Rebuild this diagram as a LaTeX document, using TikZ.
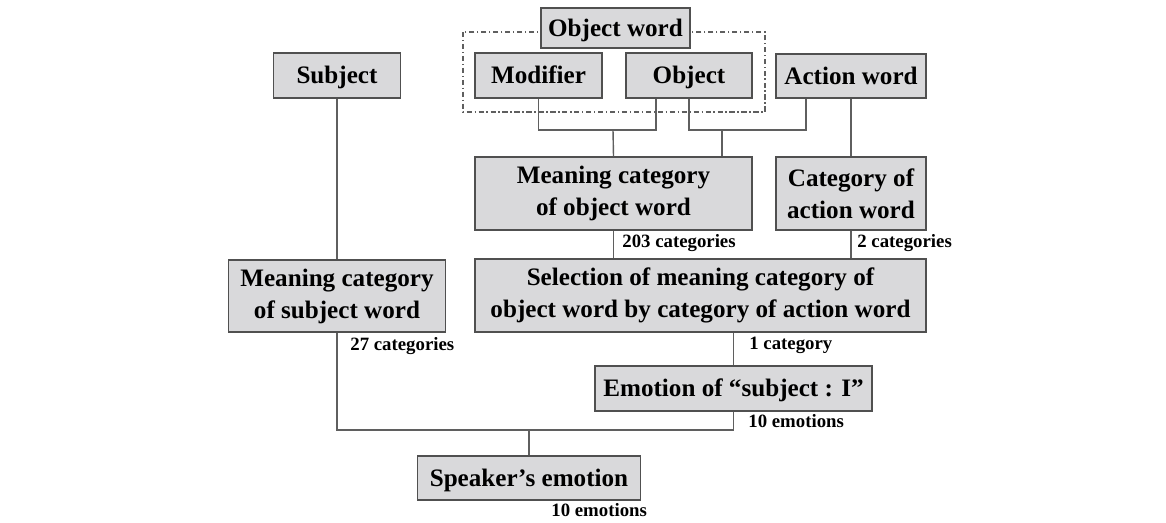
\documentclass[tikz,border=0pt]{standalone}
\usepackage{fontspec}
\setmainfont{Liberation Serif}
\definecolor{boxfill}{RGB}{217,217,219}
\definecolor{boxline}{RGB}{80,80,80}
\definecolor{wirecol}{RGB}{95,95,95}

\begin{document}
\begin{tikzpicture}[x=0.02cm, y=-0.02cm,
        wbox/.style={draw=boxline, fill=boxfill, line width=0.8pt, inner sep=0pt, align=center,
            font=\bfseries\fontsize{14.3}{18.2}\selectfont},
        oneline/.style={text height=9.6pt, text depth=0pt},
        cnt/.style={anchor=base west, inner sep=0pt, font=\bfseries\fontsize{10.7}{12}\selectfont},
        wire/.style={draw=wirecol, line width=0.8pt}]
        \useasboundingbox (0,0) rectangle (1166,522);
        % Group frame for the object word:
        \draw[wirecol, line width=0.7pt, dash pattern=on 3pt off 1.5pt on 0.8pt off 1.5pt] (463,32) rectangle (765,112);
        % Boxes:
        \node[wbox, oneline, minimum width=2.54cm, minimum height=0.9cm](subj) at (337, 75.5){Subject};
        \node[wbox, oneline, minimum width=2.98cm, minimum height=0.8cm](objw) at (615.5, 28){Object word};
        \node[wbox, oneline, minimum width=2.54cm, minimum height=0.9cm](modif) at (538.5, 75.5){Modifier};
        \node[wbox, oneline, minimum width=2.52cm, minimum height=0.9cm](obj) at (689, 75.5){Object};
        \node[wbox, oneline, minimum width=3.0cm, minimum height=0.88cm](action) at (851, 76){Action word};
        \node[wbox, minimum width=5.54cm, minimum height=1.46cm](mcobj) at (613.5, 193.5){Meaning category\\of object word};
        \node[wbox, minimum width=3.0cm, minimum height=1.46cm](catact) at (851, 193.5){Category of\\action word};
        \node[wbox, minimum width=9.02cm, minimum height=1.46cm](sel) at (700.5, 295.5){Selection of meaning category of\\object word by category of action word};
        \node[wbox, minimum width=4.34cm, minimum height=1.44cm](mcsubj) at (337, 296){Meaning category\\of subject word};
        \node[wbox, oneline, minimum width=5.54cm, minimum height=0.9cm](emo) at (733.5, 388.5){Emotion of ``subject : I''};
        \node[wbox, oneline, minimum width=4.46cm, minimum height=0.88cm](spk) at (529, 478){Speaker's emotion};
        % Junctions:
        \coordinate (bus1) at (613, 130);
        \coordinate (bus2) at (722, 130);
        \coordinate (bus3) at (529, 430);
        % Wires:
        \draw[wire] (modif.south) |- (bus1) -| ([xshift=-0.66cm]obj.south);
        \draw[wire] (bus1) -- (mcobj.north);
        \draw[wire] (obj.south) |- (bus2) -| ([xshift=-0.9cm]action.south);
        \draw[wire] (bus2) -- (bus2 |- mcobj.north);
        \draw[wire] (action.south) -- (catact.north);
        \draw[wire] (subj.south) -- (mcsubj.north);
        \draw[wire] (mcobj.south) -- (mcobj.south |- sel.north);
        \draw[wire] (catact.south) -- (catact.south |- sel.north);
        \draw[wire] (sel.south -| emo.north) -- (emo.north);
        \draw[wire] (mcsubj.south) |- (bus3) -| (emo.south);
        \draw[wire] (bus3) -- (spk.north);
        % Counts:
        \node[cnt](n203) at (622, 247){203 categories};
        \node[cnt](n2) at (857, 247){2 categories};
        \node[cnt](n27) at (350, 350){27 categories};
        \node[cnt](n1) at (749, 349){1 category};
        \node[cnt](n10a) at (748, 427){10 emotions};
        \node[cnt](n10b) at (551, 516){10 emotions};
\end{tikzpicture}
\end{document}
